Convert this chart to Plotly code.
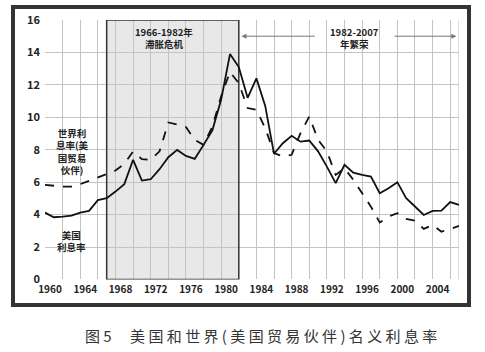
import plotly.graph_objects as go

years = list(range(1960, 2008))
us_rate = [4.12, 3.84, 3.88, 3.94, 4.12, 4.23, 4.89, 5.01, 5.42, 5.88,
           7.38, 6.10, 6.18, 6.80, 7.54, 7.99, 7.62, 7.44, 8.30, 9.20,
           11.10, 13.90, 13.10, 11.20, 12.40, 10.70, 7.75, 8.40, 8.86, 8.50,
           8.57, 7.90, 6.96, 5.94, 7.07, 6.59, 6.45, 6.35, 5.32, 5.63,
           6.00, 5.01, 4.50, 3.98, 4.23, 4.25, 4.77, 4.60]
world_rate = [5.83, 5.77, 5.73, 5.73, 5.88, 6.08, 6.31, 6.49, 6.72, 7.13,
              7.89, 7.42, 7.38, 7.90, 9.68, 9.55, 9.40, 8.61, 8.30, 9.43,
              11.30, 12.80, 12.10, 10.57, 10.46, 9.33, 7.80, 7.58, 7.69, 9.02,
              10.05, 8.61, 7.90, 6.45, 6.86, 6.14, 5.32, 4.49, 3.51, 3.88,
              4.09, 3.73, 3.63, 3.12, 3.36, 2.95, 3.12, 3.30]
y_ticks = [0, 2, 4, 6, 8, 10, 12, 14, 16]
x_ticks = list(range(1960, 2008, 4))

stag_start, stag_end = 1967, 1982
stag_label = "1966-1982年<br>滞胀危机"
boom_label = "1982-2007<br>年繁荣"
world_label = "世界利<br>息率(美<br>国贸易<br>伙伴)"
us_label = "美国<br>利息率"
caption = "图 5\u2003 美 国 和 世 界 ( 美 国 贸 易 伙 伴 ) 名 义 利 息 率"
frame_x = [0.002, 0.998, 0.998, 0.002, 0.002]
frame_y = [0.003, 0.003, 0.997, 0.997, 0.003]

fig = go.Figure()
fig.add_trace(go.Scatter(x=years, y=us_rate, mode="lines",
                         line=dict(color="#111111", width=1.8), name="美国利息率"))
fig.add_trace(go.Scatter(x=years, y=world_rate, mode="lines",
                         line=dict(color="#111111", width=1.8, dash="dash"),
                         name="世界利息率"))
# outer frame drawn on a separate subplot spanning the whole paper
fig.add_trace(go.Scatter(x=frame_x, y=frame_y, mode="lines", xaxis="x2", yaxis="y2",
                         line=dict(color="#333333", width=2), hoverinfo="skip",
                         name="frame"))

bold = dict(family="Noto Sans CJK SC, Noto Sans, sans-serif", size=9.5,
            color="#222222", weight="bold")

# shaded period
fig.add_shape(type="rect", xref="x", yref="y", x0=stag_start, x1=stag_end,
              y0=0, y1=16, fillcolor="#e8e8e8", line=dict(width=0), layer="below")
fig.add_shape(type="rect", xref="x", yref="y", x0=stag_start, x1=stag_end,
              y0=0, y1=16, fillcolor="rgba(0,0,0,0)",
              line=dict(color="#333333", width=1.5), layer="between")
# right plot edge
fig.add_shape(type="line", xref="x", yref="y", x0=2007, x1=2007, y0=0, y1=16,
              line=dict(color="#bbbbbb", width=1), layer="below")
# outer frame also as a paper shape
fig.add_shape(type="rect", xref="paper", yref="paper", x0=0.002, x1=0.998,
              y0=0.003, y1=0.997, line=dict(color="#333333", width=2),
              fillcolor="rgba(0,0,0,0)", layer="above")

fig.add_annotation(x=1973.5, y=14.86, xref="x", yref="y", text=stag_label,
                   showarrow=False, font=dict(bold, size=9.5))
fig.add_annotation(x=1995.15, y=14.87, xref="x", yref="y", text=boom_label,
                   showarrow=False, font=dict(bold, size=9.5))
fig.add_annotation(x=1982.3, y=15.0, ax=1990.8, ay=15.0, xref="x", yref="y",
                   axref="x", ayref="y", text="", showarrow=True, arrowhead=2,
                   arrowsize=1, arrowwidth=1, arrowcolor="#777777")
fig.add_annotation(x=2006.7, y=15.0, ax=1999.5, ay=15.0, xref="x", yref="y",
                   axref="x", ayref="y", text="", showarrow=True, arrowhead=2,
                   arrowsize=1, arrowwidth=1, arrowcolor="#777777")
fig.add_annotation(x=1963.1, y=7.90, xref="x", yref="y", text=world_label,
                   showarrow=False, font=bold)
fig.add_annotation(x=1963.0, y=2.40, xref="x", yref="y", text=us_label,
                   showarrow=False, font=bold)
fig.add_annotation(x=0.543, y=-0.102, xref="paper", yref="paper", text=caption,
                   showarrow=False, yanchor="middle", xanchor="center",
                   font=dict(family="Noto Sans CJK SC", size=15, color="#333333"))

# paper area = outer frame: x 13..469, y 7..305 (pixels)
fig.update_layout(
    width=485, height=352,
    margin=dict(l=13, r=16, t=7, b=47, autoexpand=False),
    paper_bgcolor="white", plot_bgcolor="rgba(0,0,0,0)",
    showlegend=False,
    font=dict(family="Noto Sans CJK SC, Noto Sans, sans-serif"),
    xaxis=dict(domain=[0.0702, 0.9781], range=[1960, 2007], anchor="y",
               tickmode="array", tickvals=x_ticks,
               ticktext=[str(v) for v in x_ticks],
               showgrid=True, gridcolor="#c4c4c4", gridwidth=1,
               minor=dict(tickmode="array", tickvals=list(range(1962, 2008, 4)),
                          showgrid=True, gridcolor="#c4c4c4", gridwidth=1),
               zeroline=False, showline=False, ticks="",
               tickfont=dict(bold, size=10), ticklabelshift=5, ticklabelstandoff=3),
    yaxis=dict(domain=[0.0856, 0.9564], range=[0, 16], anchor="x",
               tickmode="array", tickvals=y_ticks,
               showgrid=True, gridcolor="#c4c4c4", gridwidth=1,
               zeroline=False, showline=False, ticks="",
               tickfont=dict(bold, size=11), ticklabelstandoff=4),
    xaxis2=dict(domain=[0, 1], range=[0, 1], anchor="y2", fixedrange=True,
                showgrid=False, zeroline=False, showticklabels=False, ticks="",
                showline=True, mirror=True, linecolor="#333333", linewidth=2),
    yaxis2=dict(domain=[0, 1], range=[0, 1], anchor="x2", fixedrange=True,
                showgrid=False, zeroline=False, showticklabels=False, ticks="",
                showline=True, mirror=True, linecolor="#333333", linewidth=2),
)

fig.write_html("out.html")
